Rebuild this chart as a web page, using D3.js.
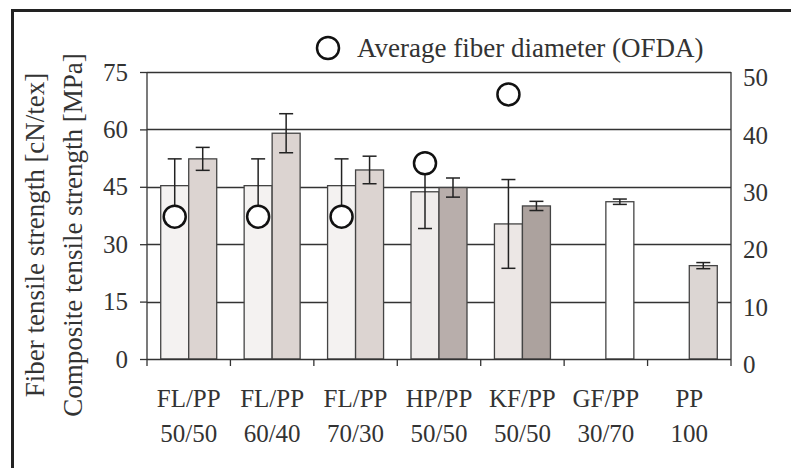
<!DOCTYPE html>
<html>
<head>
<meta charset="utf-8">
<script src="https://cdn.jsdelivr.net/npm/d3@7"></script>
<style>
  body { margin: 0; background: #fff; }
  svg text { font-family: "Liberation Serif", "Times New Roman", serif; fill: #333; }
</style>
</head>
<body>
<div id="chart"></div>
<script>
// Data
const categories = ["FL/PP|50/50", "FL/PP|60/40", "FL/PP|70/30", "HP/PP|50/50", "KF/PP|50/50", "GF/PP|30/70", "PP|100"];
const fiberStrength = [45.3, 45.3, 45.3, 43.7, 35.3, null, null];      // cN/tex
const fiberErr = [7.0, 7.0, 7.0, 9.6, 11.6, null, null];
const compositeStrength = [52.3, 59.0, 49.4, 44.8, 40.0, 41.1, 24.4];  // MPa
const compositeErr = [3.0, 5.1, 3.6, 2.5, 1.2, 0.7, 0.8];
const fiberDiameter = [24.8, 24.8, 24.8, 34.1, 46.1, null, null];      // right axis
const leftTicks = [0, 15, 30, 45, 60, 75];
const rightTicks = [0, 10, 20, 30, 40, 50];

const fiberFill = ["#f4f2f1", "#f4f2f1", "#f4f2f1", "#efeceb", "#ece7e5", "#fff", "#fff"];
const compFill = ["#dcd4d1", "#dcd4d1", "#dcd4d1", "#b8aeab", "#aca29e", "#ffffff", "#dcd6d3"];

const width = 791, height = 468;
const margin = { top: 72, right: 60, bottom: 109, left: 147 };
const innerW = width - margin.left - margin.right;
const innerH = height - margin.top - margin.bottom;

const svg = d3.select("#chart").append("svg")
  .attr("width", width).attr("height", height);

// outer frame (only top and left visible in the crop)
svg.append("path")
  .attr("d", `M12.5,${height} V10.5 H${width}`)
  .attr("fill", "none").attr("stroke", "#222").attr("stroke-width", 3);

const g = svg.append("g").attr("transform", `translate(${margin.left},${margin.top})`);

const x = d3.scaleBand().domain(categories).range([0, innerW]).padding(0);
const x1 = d3.scaleBand().domain(["fiber", "composite"]).range([0, x.bandwidth()]).paddingOuter(0.49);
const y = d3.scaleLinear().domain([0, 75]).range([innerH, 0]);
const y2 = d3.scaleLinear().domain([0, 50]).range([innerH, 0]);

// gridlines
g.append("g").selectAll("line").data(leftTicks.slice(1)).join("line")
  .attr("x1", 0).attr("x2", innerW)
  .attr("y1", d => Math.round(y(d)) + 0.5).attr("y2", d => Math.round(y(d)) + 0.5)
  .attr("stroke", "#333").attr("stroke-width", 1.3);

// left axis
const yAxis = g.append("g")
  .call(d3.axisLeft(y).tickValues(leftTicks).tickSize(7).tickPadding(12));
yAxis.select(".domain").remove();
yAxis.selectAll("line").attr("stroke", "#333").attr("stroke-width", 1.3);
yAxis.selectAll("text").attr("font-size", 25).style("fill", "#333");

// right axis labels
const yAxisR = g.append("g").attr("transform", `translate(${innerW},0)`)
  .call(d3.axisRight(y2).tickValues(rightTicks).tickSize(0).tickPadding(12));
yAxisR.select(".domain").remove();
yAxisR.selectAll("text").attr("font-size", 25).attr("dy", "0.55em").style("fill", "#333");

// bars
const grp = g.append("g").selectAll("g").data(categories).join("g")
  .attr("transform", d => `translate(${x(d)},0)`);

grp.filter((d, i) => fiberStrength[i] != null).append("rect")
  .attr("x", x1("fiber"))
  .attr("width", x1.bandwidth())
  .attr("y", d => y(fiberStrength[categories.indexOf(d)]))
  .attr("height", d => innerH - y(fiberStrength[categories.indexOf(d)]))
  .attr("fill", d => fiberFill[categories.indexOf(d)])
  .attr("stroke", "#444").attr("stroke-width", 1.3);

grp.append("rect")
  .attr("x", x1("composite"))
  .attr("width", x1.bandwidth())
  .attr("y", d => y(compositeStrength[categories.indexOf(d)]))
  .attr("height", d => innerH - y(compositeStrength[categories.indexOf(d)]))
  .attr("fill", d => compFill[categories.indexOf(d)])
  .attr("stroke", "#444").attr("stroke-width", 1.3);

// error bars
function errorBar(sel, key, vals, errs) {
  const cx = x1(key) + x1.bandwidth() / 2;
  const eb = sel.filter((d, i) => vals[i] != null).append("g").attr("stroke", "#222").attr("stroke-width", 1.5);
  eb.append("line")
    .attr("x1", cx).attr("x2", cx)
    .attr("y1", d => y(vals[categories.indexOf(d)] + errs[categories.indexOf(d)]))
    .attr("y2", d => y(vals[categories.indexOf(d)] - errs[categories.indexOf(d)]));
  [1, -1].forEach(s => {
    eb.append("line")
      .attr("x1", cx - 7).attr("x2", cx + 7)
      .attr("y1", d => y(vals[categories.indexOf(d)] + s * errs[categories.indexOf(d)]))
      .attr("y2", d => y(vals[categories.indexOf(d)] + s * errs[categories.indexOf(d)]));
  });
}
errorBar(grp, "fiber", fiberStrength, fiberErr);
errorBar(grp, "composite", compositeStrength, compositeErr);

// fiber diameter circles (right axis)
grp.filter((d, i) => fiberDiameter[i] != null).append("circle")
  .attr("cx", x1("fiber") + x1.bandwidth() / 2)
  .attr("cy", d => y2(fiberDiameter[categories.indexOf(d)]))
  .attr("r", 11)
  .attr("fill", "#fff").attr("stroke", "#111").attr("stroke-width", 2.5);

// axis frame lines
g.append("line").attr("x1", 0).attr("x2", 0).attr("y1", 0).attr("y2", innerH + 7)
  .attr("stroke", "#333").attr("stroke-width", 1.3);
g.append("line").attr("x1", innerW).attr("x2", innerW).attr("y1", 0).attr("y2", innerH + 7)
  .attr("stroke", "#333").attr("stroke-width", 1.3);
g.append("line").attr("x1", 0).attr("x2", innerW).attr("y1", innerH + 0.5).attr("y2", innerH + 0.5)
  .attr("stroke", "#333").attr("stroke-width", 1.3);

// category boundary ticks
g.append("g").selectAll("line").data(categories.slice(1)).join("line")
  .attr("x1", d => x(d)).attr("x2", d => x(d))
  .attr("y1", innerH).attr("y2", innerH + 7)
  .attr("stroke", "#333").attr("stroke-width", 1.3);

// category labels
const lab = g.append("g").selectAll("text").data(categories).join("text")
  .attr("text-anchor", "middle")
  .attr("font-size", 25)
  .attr("x", d => x(d) + x.bandwidth() / 2);
lab.append("tspan").attr("x", d => x(d) + x.bandwidth() / 2).attr("y", innerH + 48).text(d => d.split("|")[0]);
lab.append("tspan").attr("x", d => x(d) + x.bandwidth() / 2).attr("y", innerH + 83).text(d => d.split("|")[1]);

// y axis title
const title = svg.append("text")
  .attr("transform", "translate(0,235) rotate(-90)")
  .attr("text-anchor", "middle").attr("font-size", 27);
title.append("tspan").attr("x", 0).attr("y", 44).text("Fiber tensile strength [cN/tex]");
title.append("tspan").attr("x", 0).attr("y", 82).text("Composite tensile strength [MPa]");

// legend
svg.append("circle").attr("cx", 328).attr("cy", 48).attr("r", 11)
  .attr("fill", "#fff").attr("stroke", "#111").attr("stroke-width", 2.5);
svg.append("text").attr("x", 357).attr("y", 57).attr("font-size", 27)
  .text("Average fiber diameter (OFDA)");
</script>
</body>
</html>
